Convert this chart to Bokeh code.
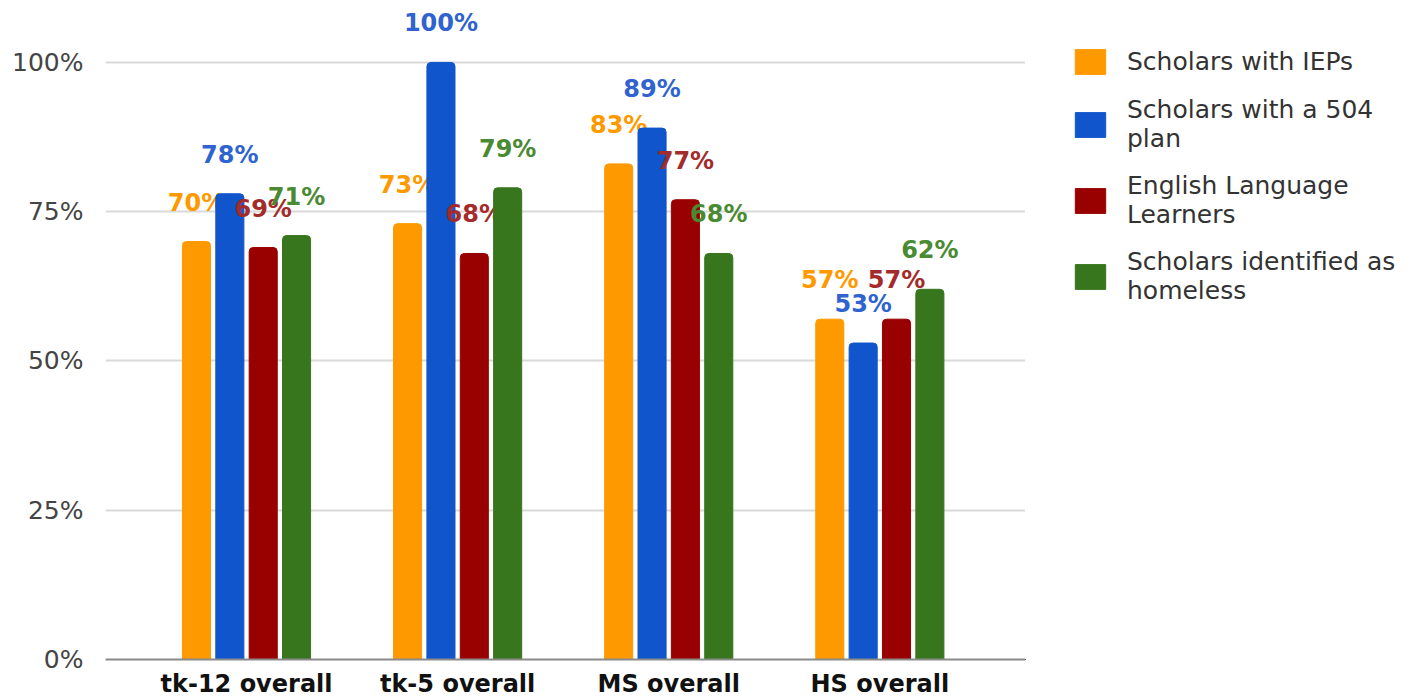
from bokeh.plotting import figure
from bokeh.layouts import row
from bokeh.models import ColumnDataSource, FixedTicker, Legend, LegendItem
from bokeh.transform import dodge
from bokeh.core.properties import value
from bokeh.embed import file_html
from bokeh.resources import INLINE

categories = ["tk-12 overall", "tk-5 overall", "MS overall", "HS overall"]
series_names = [
    "Scholars with IEPs",
    "Scholars with a 504\nplan",
    "English Language\nLearners",
    "Scholars identified as\nhomeless",
]
iep = [70, 73, 83, 57]
plan504 = [78, 100, 89, 53]
ell = [69, 68, 77, 57]
homeless = [71, 79, 68, 62]
y_ticks = [0, 25, 50, 75, 100]
y_tick_labels = ["0%", "25%", "50%", "75%", "100%"]

bar_colors = ["#FF9900", "#1155CC", "#990000", "#38761D"]
label_colors = ["#FF9900", "#2F63D0", "#A32B2B", "#4A8A32"]
offsets = [-0.237, -0.079, 0.079, 0.237]
bar_width = 0.133
FONT = "DejaVu Sans"

# main chart
p = figure(
    width=1025, height=700,
    x_range=(-0.668, 3.69), y_range=(0, 110.37),
    output_backend="svg", toolbar_location=None,
    min_border_left=105, min_border_right=0, min_border_top=0, min_border_bottom=40,
)
p.outline_line_color = None
p.background_fill_color = "white"
p.border_fill_color = "white"

# legend panel (its bars use the same data but lie outside its visible range)
p2 = figure(width=400, height=700, x_range=(5, 6), y_range=(101, 110),
            output_backend="svg", toolbar_location=None, min_border=0)
p2.outline_line_color = None
p2.axis.visible = False
p2.grid.visible = False
p2.background_fill_color = "white"
p2.border_fill_color = "white"

idx = list(range(len(categories)))
all_series = [iep, plan504, ell, homeless]
items = []
for name, vals, bc, lc, off in zip(series_names, all_series, bar_colors, label_colors, offsets):
    src = ColumnDataSource(dict(x=idx, y=vals, lab=[f"{v}%" for v in vals]))
    p.vbar(x=dodge("x", off, range=p.x_range), top="y", width=bar_width, source=src,
           fill_color=bc, line_color=bc, border_radius=(4, 4, 0, 0))
    p.text(x=dodge("x", off, range=p.x_range), y="y", text="lab", source=src,
           text_color=lc,
           text_font=value(FONT), text_font_style="bold", text_font_size="24px",
           text_align="center", text_baseline="middle", y_offset=-39)
    key = p2.vbar(x="x", top="y", width=bar_width, source=src, fill_color=bc, line_color=bc)
    items.append(LegendItem(label=name, renderers=[key]))

legend = Legend(items=items, location="top_left", margin=46, padding=0,
                glyph_width=38, glyph_height=31, label_standoff=18,
                label_text_font=FONT, label_text_font_size="25px", label_text_color="#333333",
                label_text_line_height=1.06, label_height=26, spacing=18,
                border_line_color=None, background_fill_alpha=0)
p2.add_layout(legend, "center")

p.xgrid.visible = False
p.ygrid.ticker = FixedTicker(ticks=y_ticks)
p.ygrid.grid_line_color = "#D9D9D9"
p.ygrid.grid_line_width = 2

p.yaxis.ticker = FixedTicker(ticks=y_ticks)
p.yaxis.major_label_overrides = dict(zip(y_ticks, y_tick_labels))
p.yaxis.axis_line_color = None
p.yaxis.major_tick_line_color = None
p.yaxis.minor_tick_line_color = None
p.yaxis.major_label_standoff = 16
p.yaxis.major_label_text_font = FONT
p.yaxis.major_label_text_font_size = "25px"
p.yaxis.major_label_text_color = "#444444"

p.xaxis.ticker = FixedTicker(ticks=idx)
p.xaxis.major_label_overrides = dict(zip(idx, categories))
p.xaxis.axis_line_color = "#8A8A8A"
p.xaxis.axis_line_width = 2
p.xaxis.major_tick_line_color = None
p.xaxis.minor_tick_line_color = None
p.xaxis.major_label_standoff = 4
p.xaxis.major_label_text_font = FONT
p.xaxis.major_label_text_font_style = "bold"
p.xaxis.major_label_text_font_size = "24px"
p.xaxis.major_label_text_color = "#111111"

layout = row(p, p2)
open("out.html", "w").write(file_html(layout, INLINE))
